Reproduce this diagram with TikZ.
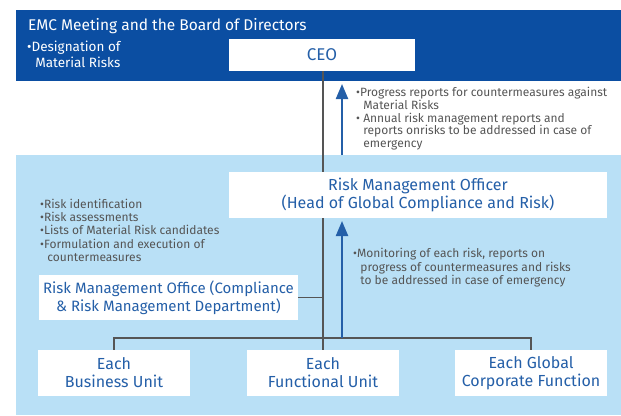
\documentclass[tikz,border=0pt]{standalone}
\usepackage{fontspec}
\setmainfont{Fira Sans}
\usetikzlibrary{arrows.meta}
\definecolor{boardblue}{HTML}{0B4EA2}
\definecolor{paleblue}{HTML}{B9E0F6}
\definecolor{labelblue}{HTML}{245FA8}
\definecolor{notegray}{HTML}{555555}
\tikzstyle{unitbox}=[fill=white,text=labelblue,align=center,inner sep=0pt,font=\fontsize{16}{18}\selectfont]
\tikzstyle{note}=[text=notegray,align=left,anchor=north west,inner sep=0pt,font=\fontsize{12}{13.2}\selectfont]
\tikzstyle{chain}=[draw=notegray,line width=1.2pt]
\tikzstyle{report}=[draw=labelblue,line width=2.2pt,-{Triangle[length=15pt,width=12pt]}]
\newcommand{\dotitem}{\textbullet}
\newcommand{\hangline}{\hspace*{0.6em}}

\begin{document}
\begin{tikzpicture}[x=1pt,y=-1pt]
	\useasboundingbox (0,0) rectangle (621,415);
	% the two bands
	\fill[boardblue] (16,10) rectangle (621,81);
	\fill[paleblue] (16,155) rectangle (621,415);
	\node[anchor=west,text=white,inner sep=0pt,font=\fontsize{15.5}{18}\selectfont] (board) at (28,26) {EMC Meeting and the Board of Directors};
	\node[anchor=north west,text=white,inner sep=0pt,align=left,font=\fontsize{13.5}{15.5}\selectfont] (designation) at (27,41) {\dotitem Designation of\\\hangline Material Risks};
	% boxes
	\node[unitbox,minimum width=186,minimum height=32,font=\fontsize{17}{18}\selectfont] (ceo) at (322,55) {CEO};
	\node[unitbox,minimum width=378,minimum height=46] (rmo) at (418,195) {Risk Management Officer\\(Head of Global Compliance and Risk)};
	\node[unitbox,minimum width=259,minimum height=45,font=\fontsize{15}{18}\selectfont] (office) at (168.5,297.5) {Risk Management Office (Compliance\\\& Risk Management Department)};
	\node[unitbox,minimum width=152,minimum height=46] (bu) at (114,373) {Each\\Business Unit};
	\node[unitbox,minimum width=152,minimum height=46] (fu) at (323,373) {Each\\Functional Unit};
	\node[unitbox,minimum width=152,minimum height=46] (gcf) at (531,373) {Each Global\\Corporate Function};
	% reporting lines (run behind the officer box)
	\coordinate (hub) at (323,338);
	\draw[chain] (ceo.south -| hub) -- (rmo.north -| hub);
	\draw[chain] (rmo.south -| hub) -- (fu.north -| hub);
	\draw[chain] (bu.north) |- (hub) -| (gcf.north);
	\draw[chain] (office.east) -- (office.east -| hub);
	% upward reports
	\coordinate (upfoot) at (342,155);
	\coordinate (uptip) at (342,84);
	\coordinate (midfoot) at (342,338);
	\coordinate (midtip) at (342,221);
	\draw[report] (upfoot) -- (uptip);
	\draw[report] (midfoot) -- (midtip);
	% notes
	\node[note,font=\fontsize{12}{12.8}\selectfont] (ceonote) at (356,87) {\dotitem Progress reports for countermeasures against\\\hangline Material Risks\\\dotitem{} Annual risk management reports and\\\hangline reports onrisks to be addressed in case of\\\hangline emergency};
	\node[note] (officenote) at (40,199) {\dotitem Risk identification\\\dotitem Risk assessments\\\dotitem Lists of Material Risk candidates\\\dotitem Formulation and execution of\\\hangline countermeasures};
	\node[note,font=\fontsize{12}{13.5}\selectfont] (rmonote) at (353,248) {\dotitem Monitoring of each risk, reports on\\\hangline progress of countermeasures and risks\\\hangline to be addressed in case of emergency};
\end{tikzpicture}
\end{document}
